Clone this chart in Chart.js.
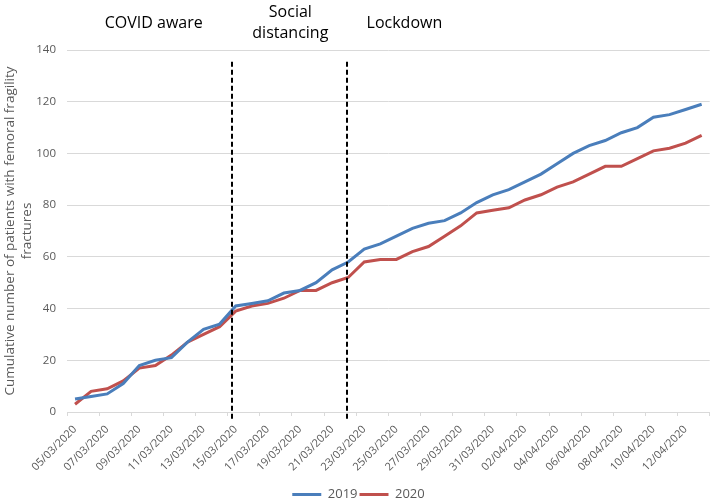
<!DOCTYPE html>
<html><head><meta charset="utf-8">
<script src="https://cdn.jsdelivr.net/npm/chart.js@4/dist/chart.umd.min.js"></script>
<style>html,body{margin:0;padding:0;background:#fff}#wrap{width:718px;height:500px}</style>
</head><body><div id="wrap"><canvas id="c" width="718" height="500"></canvas></div>
<script>
const dates = ['05/03/2020','06/03/2020','07/03/2020','08/03/2020','09/03/2020','10/03/2020','11/03/2020','12/03/2020','13/03/2020','14/03/2020',
  '15/03/2020','16/03/2020','17/03/2020','18/03/2020','19/03/2020','20/03/2020','21/03/2020','22/03/2020','23/03/2020','24/03/2020',
  '25/03/2020','26/03/2020','27/03/2020','28/03/2020','29/03/2020','30/03/2020','31/03/2020','01/04/2020','02/04/2020','03/04/2020',
  '04/04/2020','05/04/2020','06/04/2020','07/04/2020','08/04/2020','09/04/2020','10/04/2020','11/04/2020','12/04/2020','13/04/2020'];
const series2019 = [5,6,7,11,18,20,21,27,32,34,41,42,43,46,47,50,55,58,63,65,68,71,73,74,77,81,84,86,89,92,96,100,103,105,108,110,114,115,117,119];
const series2020 = [3,8,9,12,17,18,22,27,30,33,39,41,42,44,47,47,50,52,58,59,59,62,64,68,72,77,78,79,82,84,87,89,92,95,95,98,101,102,104,107];
const yMin = 0, yMax = 140, yStep = 20;
const phaseLines = [9.75, 16.9];
const phaseLabels = [
  {lines: ['COVID aware'], at: 4.9},
  {lines: ['Social', 'distancing'], at: 13.4},
  {lines: ['Lockdown'], at: 20.5}
];
const yTitle = ['Cumulative number of patients with femoral fragility', 'fractures'];

const FONT = "'Open Sans', sans-serif";
Chart.defaults.font.family = FONT;

const phasePlugin = {
  id: 'phases',
  afterDatasetsDraw(chart) {
    const ctx = chart.ctx, xs = chart.scales.x, ys = chart.scales.y;
    ctx.save();
    ctx.strokeStyle = '#000';
    ctx.lineWidth = 2;
    ctx.setLineDash([5, 3]);
    phaseLines.forEach(v => {
      const px = Math.round(xs.getPixelForValue(v));
      ctx.beginPath();
      ctx.moveTo(px, ys.getPixelForValue(135.5));
      ctx.lineTo(px, ys.getPixelForValue(-3.5));
      ctx.stroke();
    });
    ctx.restore();
  },
  afterDraw(chart) {
    const ctx = chart.ctx, xs = chart.scales.x, top = chart.chartArea.top;
    ctx.save();
    ctx.fillStyle = '#000';
    ctx.font = "16px " + FONT;
    ctx.textAlign = 'center';
    ctx.textBaseline = 'middle';
    const lh = 21, cy = top - 27;
    phaseLabels.forEach(p => {
      const px = xs.getPixelForValue(p.at);
      const n = p.lines.length;
      p.lines.forEach((t, i) => {
        ctx.fillText(t, px, cy + (i - (n - 1) / 2) * lh);
      });
    });
    ctx.restore();
  }
};

new Chart(document.getElementById('c'), {
  type: 'line',
  data: {
    labels: dates,
    datasets: [
      {label: '2019', data: series2019, borderColor: '#4a7ebb', backgroundColor: '#4a7ebb', borderWidth: 3, pointRadius: 0, tension: 0, fill: false},
      {label: '2020', data: series2020, borderColor: '#c0504d', backgroundColor: '#c0504d', borderWidth: 3, pointRadius: 0, tension: 0, fill: false}
    ]
  },
  options: {
    responsive: false,
    devicePixelRatio: 1,
    animation: false,
    layout: {padding: {top: 50, left: 0, right: 1, bottom: -11}},
    plugins: {
      legend: {
        position: 'bottom',
        labels: {
          usePointStyle: true, pointStyle: 'line', pointStyleWidth: 29,
          color: '#595959', font: {size: 13, family: FONT}, padding: 2, boxHeight: 13
        }
      },
      tooltip: {enabled: false}
    },
    scales: {
      x: {
        offset: true,
        grid: {
          offset: true, drawOnChartArea: false, drawTicks: true, tickLength: 4,
          color: c => (c.index === undefined || c.index % 2 === 0) ? '#d9d9d9' : 'rgba(0,0,0,0)'
        },
        border: {display: true, color: '#d9d9d9', width: 1},
        ticks: {
          autoSkip: false, maxRotation: 45, minRotation: 45, padding: 7,
          color: '#595959', font: {size: 11, family: FONT},
          callback: (v, i) => i % 2 === 0 ? dates[i] : ''
        },
        afterFit: s => { s.height = 74; }
      },
      y: {
        min: yMin, max: yMax,
        ticks: {stepSize: yStep, color: '#595959', font: {size: 11.5, family: FONT}, padding: 11},
        grid: {color: '#d9d9d9', drawTicks: false},
        border: {display: false},
        title: {display: true, text: yTitle, color: '#595959', font: {size: 13.5, family: FONT, lineHeight: 1.26}, padding: {top: 1.5, bottom: 0}},
        afterFit: s => { s.width = 67; }
      }
    }
  },
  plugins: [phasePlugin]
});
</script>
</body></html>
